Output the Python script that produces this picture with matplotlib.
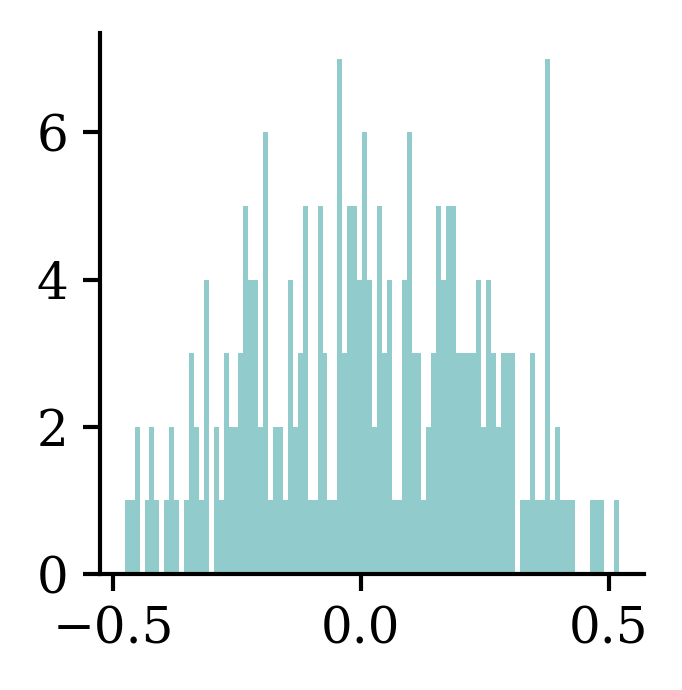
import numpy as np
import matplotlib
matplotlib.use("Agg")
import matplotlib.pyplot as plt

# Histogram counts per bin (100 bins)
counts = [1, 1, 2, 0, 1, 2, 1, 0, 1, 2,
          1, 0, 1, 3, 2, 1, 4, 0, 2, 1,
          3, 2, 2, 3, 5, 4, 4, 2, 6, 1,
          2, 2, 1, 4, 2, 3, 5, 1, 1, 5,
          3, 1, 1, 7, 3, 5, 5, 4, 6, 4,
          2, 5, 3, 4, 1, 1, 4, 6, 3, 3,
          1, 2, 3, 5, 4, 5, 5, 3, 3, 3,
          3, 4, 2, 4, 3, 2, 3, 3, 3, 0,
          1, 1, 3, 1, 1, 7, 1, 2, 1, 1,
          1, 0, 0, 0, 1, 1, 1, 0, 0, 1]
data_min = -0.4767
data_max = 0.5213
n_bins = 100

x_ticks = [-0.5, 0.0, 0.5]
y_ticks = [0, 2, 4, 6]

edges = np.linspace(data_min, data_max, n_bins + 1)
centers = (edges[:-1] + edges[1:]) / 2

plt.rcParams['font.family'] = ['DejaVu Serif']
plt.rcParams['font.size'] = 12

fig = plt.figure(figsize=(682 / 300, 690 / 300), dpi=300)
ax = fig.add_axes([100 / 682, 1 - 574 / 690, 544 / 682, 541 / 690])
ax.hist(centers, bins=edges, weights=counts, color='#92CBCB')

ax.set_xticks(x_ticks)
ax.set_yticks(y_ticks)
for s in ['top', 'right']:
    ax.spines[s].set_visible(False)
for s in ['left', 'bottom']:
    ax.spines[s].set_linewidth(1.0)
ax.tick_params(length=4, width=1.0, labelsize=12)

fig.savefig('out.png', dpi=300)
